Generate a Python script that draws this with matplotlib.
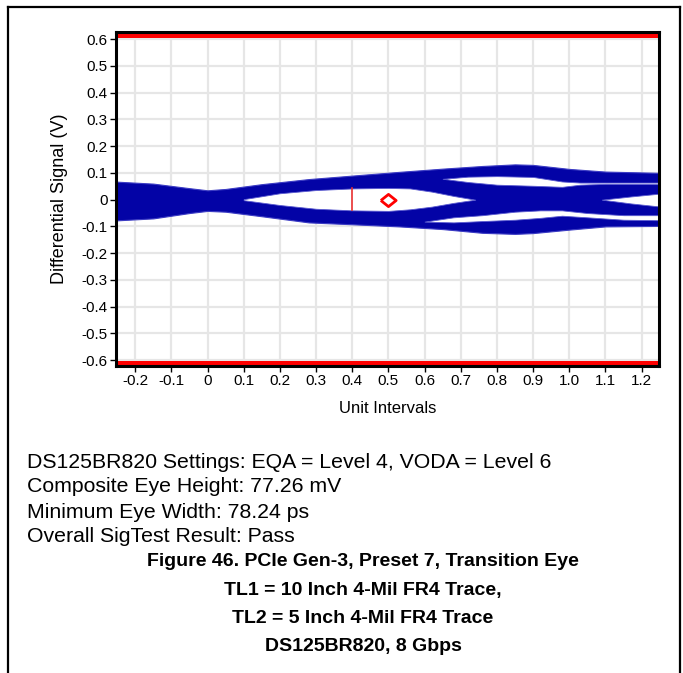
import matplotlib
matplotlib.use('Agg')
import matplotlib.pyplot as plt
from matplotlib.lines import Line2D

plt.rcParams['font.family'] = ['Liberation Sans', 'DejaVu Sans']

# ---------------- data ----------------
x_ticks = [-0.2, -0.1, 0.0, 0.1, 0.2, 0.3, 0.4, 0.5, 0.6, 0.7, 0.8, 0.9, 1.0, 1.1, 1.2]
x_tick_labels = ['-0.2', '-0.1', '0', '0.1', '0.2', '0.3', '0.4', '0.5', '0.6', '0.7',
                 '0.8', '0.9', '1.0', '1.1', '1.2']
y_ticks = [0.6, 0.5, 0.4, 0.3, 0.2, 0.1, 0.0, -0.1, -0.2, -0.3, -0.4, -0.5, -0.6]
y_tick_labels = ['0.6', '0.5', '0.4', '0.3', '0.2', '0.1', '0', '-0.1', '-0.2', '-0.3',
                 '-0.4', '-0.5', '-0.6']

# outer envelope of the eye traces (UI, V)
env_x = [-0.26, -0.15, -0.05, 0.0, 0.05, 0.15, 0.28, 0.4, 0.53, 0.65, 0.76, 0.85, 0.9, 1.0, 1.1, 1.26]
env_top = [0.068, 0.060, 0.043, 0.035, 0.040, 0.058, 0.077, 0.090, 0.104, 0.116, 0.126, 0.132, 0.130, 0.115, 0.105, 0.100]
env_bot = [-0.078, -0.070, -0.050, -0.042, -0.045, -0.062, -0.085, -0.092, -0.100, -0.110, -0.124, -0.128, -0.125, -0.112, -0.100, -0.098]

# central eye opening
eye_x = [0.10, 0.20, 0.30, 0.40, 0.50, 0.56, 0.62, 0.68, 0.74]
eye_top = [0.002, 0.024, 0.036, 0.042, 0.044, 0.042, 0.030, 0.014, 0.0]
eye_bot = [-0.002, -0.020, -0.034, -0.040, -0.042, -0.036, -0.026, -0.012, 0.0]

# upper secondary opening
up_x = [0.65, 0.72, 0.80, 0.90, 0.98, 1.03, 1.10, 1.26]
up_top = [0.078, 0.086, 0.088, 0.085, 0.068, 0.064, 0.064, 0.064]
up_bot = [0.078, 0.066, 0.056, 0.052, 0.048, 0.056, 0.059, 0.058]

# lower secondary opening
lo_x = [0.60, 0.68, 0.76, 0.85, 0.92, 0.98, 1.05, 1.15, 1.26]
lo_top = [-0.082, -0.066, -0.058, -0.045, -0.040, -0.040, -0.050, -0.058, -0.058]
lo_bot = [-0.082, -0.085, -0.080, -0.075, -0.068, -0.060, -0.066, -0.075, -0.077]

# next eye opening at the right edge
rt_x = [1.09, 1.17, 1.26]
rt_top = [0.0, 0.012, 0.024]
rt_bot = [0.0, -0.014, -0.027]

# eye-width marker and eye-center marker
width_marker_x = 0.4
width_marker_y = [-0.039, 0.042]
center_x = 0.5
center_y = 0.0
mask_level = 0.604

info_lines = ['DS125BR820 Settings: EQA = Level 4, VODA = Level 6',
              'Composite Eye Height: 77.26 mV',
              'Minimum Eye Width: 78.24 ps',
              'Overall SigTest Result: Pass']
caption_lines = ['Figure 46. PCIe Gen-3, Preset 7, Transition Eye',
                 'TL1 = 10 Inch 4-Mil FR4 Trace,',
                 'TL2 = 5 Inch 4-Mil FR4 Trace',
                 'DS125BR820, 8 Gbps']

# ---------------- figure ----------------
W, H = 683, 673
fig = plt.figure(figsize=(W / 100, H / 100), dpi=100)
fig.patch.set_facecolor('white')

ax = fig.add_axes([116 / W, 1 - 366 / H, (659 - 116) / W, (366 - 32) / H])
ax.set_xlim(-0.253, 1.248)
ax.set_ylim(-0.622, 0.627)

blue = '#0303a6'
edge = '#3c3cc4'
ax.fill_between(env_x, env_bot, env_top, color=blue, lw=0.8, edgecolor=edge, zorder=2)
for xs, tp, bt in [(eye_x, eye_top, eye_bot), (up_x, up_top, up_bot),
                   (lo_x, lo_top, lo_bot), (rt_x, rt_top, rt_bot)]:
    ax.fill_between(xs, bt, tp, facecolor='white', edgecolor='#5a5ad0', lw=0.6, zorder=3)

ax.axhspan(mask_level, 1.0, color='#ff0000', lw=0, zorder=4)
ax.axhspan(-1.0, -mask_level, color='#ff0000', lw=0, zorder=4)

ax.plot([width_marker_x, width_marker_x], width_marker_y, color='#e83030', lw=1.2, zorder=5)
diamond = [(-1, 0), (0, 0.8), (1, 0), (0, -0.8), (-1, 0)]
ax.plot([center_x], [center_y], marker=diamond, ms=11, mfc='white', mec='#ff0000',
        mew=2, ls='none', zorder=6)

ax.set_xticks(x_ticks)
ax.set_xticklabels(x_tick_labels)
ax.set_yticks(y_ticks)
ax.set_yticklabels(y_tick_labels)
ax.grid(True, color='#e6e6e6', lw=1.6, zorder=0)
ax.set_axisbelow(True)
ax.tick_params(direction='out', length=4, width=1, labelsize=11, colors='black', pad=2)
for s in ax.spines.values():
    s.set_linewidth(2.2)
    s.set_color('black')
    s.set_zorder(7)

ax.set_xlabel('Unit Intervals', fontsize=12, labelpad=9)
ax.set_ylabel('Differential Signal (V)', fontsize=13, labelpad=10)

# outer frame
fig.add_artist(Line2D([8 / W, 680 / W], [1 - 7 / H, 1 - 7 / H], color='black', lw=1.6,
                      transform=fig.transFigure))
fig.add_artist(Line2D([8 / W, 8 / W], [0, 1 - 7 / H], color='black', lw=1.6,
                      transform=fig.transFigure))
fig.add_artist(Line2D([680 / W, 680 / W], [0, 1 - 7 / H], color='black', lw=1.6,
                      transform=fig.transFigure))

y0 = 462
for i, t in enumerate(info_lines):
    fig.text(27 / W, 1 - (y0 + 25 * i) / H, t, fontsize=15.3, ha='left', va='center')
y1 = 562
for i, t in enumerate(caption_lines):
    fig.text(363 / W, 1 - (y1 + 28.3 * i) / H, t, fontsize=14, fontweight='bold',
             ha='center', va='center')

fig.savefig('out.png', dpi=100)
